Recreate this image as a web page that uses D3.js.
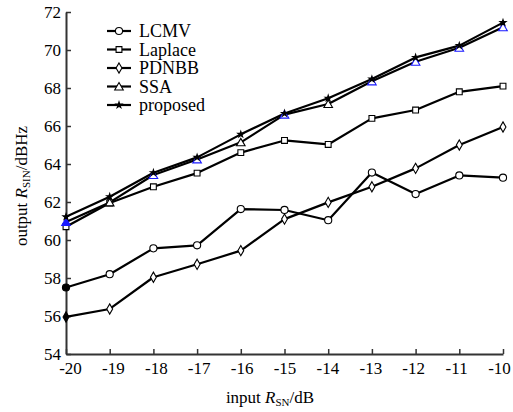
<!DOCTYPE html>
<html>
<head>
<meta charset="utf-8">
<script src="https://cdn.jsdelivr.net/npm/d3@7"></script>
<style>
  body { margin: 0; background: #fff; }
  text { font-family: "Liberation Serif", "Times New Roman", serif; fill: #000; }
</style>
</head>
<body>
<div id="chart"></div>
<script>
// data
var snrIn = [-20, -19, -18, -17, -16, -15, -14, -13, -12, -11, -10];
var lcmv     = [57.5, 58.2, 59.56, 59.72, 61.63, 61.58, 61.04, 63.55, 62.42, 63.4, 63.28];
var laplace  = [60.7, 61.95, 62.8, 63.52, 64.6, 65.24, 65.03, 66.4, 66.84, 67.8, 68.1];
var pdnbb    = [55.95, 56.37, 58.04, 58.72, 59.44, 61.1, 61.98, 62.8, 63.77, 65.0, 65.95];
var ssa      = [60.95, 61.98, 63.42, 64.24, 65.14, 66.6, 67.16, 68.35, 69.38, 70.12, 71.2];
var proposed = [61.22, 62.28, 63.54, 64.35, 65.56, 66.66, 67.46, 68.47, 69.61, 70.23, 71.44];
var yTicks = [54, 56, 58, 60, 62, 64, 66, 68, 70, 72];

var seriesNames = ["LCMV", "Laplace", "PDNBB", "SSA", "proposed"];
var seriesData = [lcmv, laplace, pdnbb, ssa, proposed];
var seriesMarks = ["circle", "square", "diamond", "triangle", "star"];

var svgWidth = 513, svgHeight = 412;
var margin = {top: 12, right: 10, bottom: 58, left: 66};

var svg = d3.select("#chart").append("svg")
    .attr("width", svgWidth)
    .attr("height", svgHeight);

var x = d3.scaleLinear().domain([-20, -10]).range([margin.left, svgWidth - margin.right]);
var y = d3.scaleLinear().domain([54, 72]).range([svgHeight - margin.bottom, margin.top]);

// axes, ticks pointing inward, plain hyphen for minus
var xAxis = d3.axisBottom(x).tickValues(snrIn).tickFormat(function(d) { return String(d); })
    .tickSizeInner(-5).tickSizeOuter(0).tickPadding(8);
var yAxis = d3.axisLeft(y).tickValues(yTicks).tickFormat(function(d) { return String(d); })
    .tickSizeInner(-5).tickSizeOuter(0).tickPadding(5);

var gx = svg.append("g")
    .attr("transform", `translate(0, ${y(54)})`)
    .call(xAxis);
var gy = svg.append("g")
    .attr("transform", `translate(${x(-20)}, 0)`)
    .call(yAxis);

[gx, gy].forEach(function(g) {
    g.attr("font-family", null).attr("font-size", null);
    g.select(".domain").attr("stroke", "#333").attr("stroke-width", 2);
    g.selectAll(".tick line").attr("stroke", "#333").attr("stroke-width", 1.5);
    g.selectAll(".tick text")
        .style("font-family", "'Liberation Serif', 'Times New Roman', serif")
        .style("font-size", "17px")
        .attr("fill", "#000");
});
// pull the outer x labels in slightly, as in the original
gx.selectAll(".tick text").attr("dx", function(d) { return (d + 15) * -0.8; });

// marker drawing
function drawMarker(g, kind, cx, cy, filled, stroke) {
    var sym, size;
    if (kind == "circle") { sym = d3.symbolCircle; size = 40; }
    else if (kind == "square") { sym = d3.symbolSquare; size = 34; }
    else if (kind == "diamond") { sym = d3.symbolDiamond; size = 30; }
    else if (kind == "triangle") { sym = d3.symbolTriangle; size = 32; }
    else { sym = d3.symbolStar; size = 10; }
    var p = g.append("path")
        .attr("d", d3.symbol().type(sym).size(size)())
        .attr("transform", `translate(${cx}, ${cy})` + (kind == "triangle" ? " translate(0,1)" : ""))
        .attr("fill", filled ? stroke : "#fff")
        .attr("stroke", stroke)
        .attr("stroke-width", kind == "star" ? 1.2 : 1.1);
    return p;
}

// SSA markers that show up blue in the original
var blueSSA = [-20, -18, -17, -15, -13, -12, -11, -10];

var line = d3.line()
    .x(function(d, i) { return x(snrIn[i]); })
    .y(function(d) { return y(d); });

seriesData.forEach(function(vals, s) {
    svg.append("path")
        .datum(vals)
        .attr("d", line)
        .attr("fill", "none")
        .attr("stroke", "#000")
        .attr("stroke-width", 2.2)
        .attr("stroke-linejoin", "round");
});

seriesData.forEach(function(vals, s) {
    var g = svg.append("g");
    vals.forEach(function(v, i) {
        var kind = seriesMarks[s];
        var col = "#000";
        if (kind == "triangle" && blueSSA.indexOf(snrIn[i]) >= 0) col = "#1a1aff";
        var filled = (i == 0 && kind != "square") || kind == "star";
        drawMarker(g, kind, x(snrIn[i]), y(v), filled, col);
    });
});

// legend
var legend = svg.append("g").attr("transform", "translate(107, 31)");
seriesNames.forEach(function(name, i) {
    var row = legend.append("g").attr("transform", `translate(0, ${i * 18.5})`);
    row.append("line")
        .attr("x1", 0).attr("x2", 24)
        .attr("stroke", "#000").attr("stroke-width", 2.2);
    drawMarker(row, seriesMarks[i], 12, 0, seriesMarks[i] == "star", "#000");
    row.append("text")
        .attr("x", 32)
        .attr("y", 6)
        .attr("font-size", 18)
        .text(name);
});

// axis titles
var xt = svg.append("text")
    .attr("x", 270)
    .attr("y", 403)
    .attr("text-anchor", "middle")
    .attr("font-size", 17);
xt.append("tspan").text("input ");
xt.append("tspan").attr("font-style", "italic").text("R");
xt.append("tspan").attr("font-size", 11).attr("dy", 3).text("SN");
xt.append("tspan").attr("dy", -3).text("/dB");

var yt = svg.append("text")
    .attr("transform", "translate(27, 186) rotate(-90)")
    .attr("text-anchor", "middle")
    .attr("font-size", 17);
yt.append("tspan").text("output ");
yt.append("tspan").attr("font-style", "italic").text("R");
yt.append("tspan").attr("font-size", 11).attr("dy", 3).text("SIN");
yt.append("tspan").attr("dy", -3).text("/dBHz");
</script>
</body>
</html>
